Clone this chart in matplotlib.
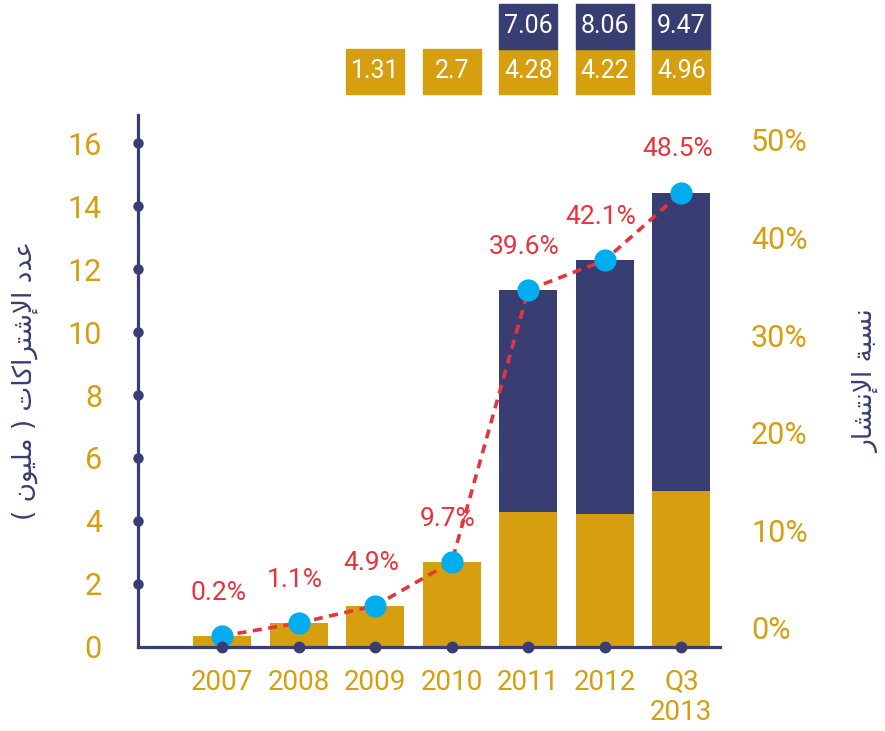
import matplotlib.pyplot as plt
from matplotlib.patches import Rectangle

# ---------------- data ----------------
years = ["2007", "2008", "2009", "2010", "2011", "2012", "Q3\n2013"]
prepaid = [0.35, 0.76, 1.31, 2.7, 4.28, 4.22, 4.96]      # gold part (million)
postpaid = [0, 0, 0, 0, 7.06, 8.06, 9.47]               # navy part (million)
penetration = [0.2, 1.1, 4.9, 9.7, 39.6, 42.1, 48.5]    # %
box_gold = ["", "", "1.31", "2.7", "4.28", "4.22", "4.96"]
box_navy = ["", "", "", "", "7.06", "8.06", "9.47"]
left_ticks = [0, 2, 4, 6, 8, 10, 12, 14, 16]
right_ticks = [0, 10, 20, 30, 40, 50]

GOLD = "#d59f10"
NAVY = "#383d72"
RED = "#e8333c"
CYAN = "#00aeef"
FONT = ["Roboto", "DejaVu Sans"]


# ---------------- tiny arabic shaper (no bidi libs installed) ----------------
FORMS = {
    "ا": ("\uFE8D", "\uFE8E"), "إ": ("\uFE87", "\uFE88"), "د": ("\uFEA9", "\uFEAA"),
    "ر": ("\uFEAD", "\uFEAE"), "و": ("\uFEED", "\uFEEE"), "ة": ("\uFE93", "\uFE94"),
    "ب": ("\uFE8F", "\uFE90", "\uFE91", "\uFE92"), "ت": ("\uFE95", "\uFE96", "\uFE97", "\uFE98"),
    "س": ("\uFEB1", "\uFEB2", "\uFEB3", "\uFEB4"), "ش": ("\uFEB5", "\uFEB6", "\uFEB7", "\uFEB8"),
    "ع": ("\uFEC9", "\uFECA", "\uFECB", "\uFECC"), "ك": ("\uFED9", "\uFEDA", "\uFEDB", "\uFEDC"),
    "ل": ("\uFEDD", "\uFEDE", "\uFEDF", "\uFEE0"), "م": ("\uFEE1", "\uFEE2", "\uFEE3", "\uFEE4"),
    "ن": ("\uFEE5", "\uFEE6", "\uFEE7", "\uFEE8"), "ي": ("\uFEF1", "\uFEF2", "\uFEF3", "\uFEF4"),
}
LAM_ALEF = {"ا": ("\uFEFB", "\uFEFC"), "إ": ("\uFEF9", "\uFEFA")}


def shape_ar(text):
    out = []
    i = 0
    while i < len(text):
        ch = text[i]
        if ch not in FORMS:
            out.append(ch)
            i += 1
            continue
        prev = text[i - 1] if i > 0 else ""
        joins_prev = prev in FORMS and len(FORMS[prev]) == 4
        if ch == "ل" and i + 1 < len(text) and text[i + 1] in LAM_ALEF:
            out.append(LAM_ALEF[text[i + 1]][1 if joins_prev else 0])
            i += 2
            continue
        nxt = text[i + 1] if i + 1 < len(text) else ""
        f = FORMS[ch]
        joins_next = len(f) == 4 and nxt in FORMS
        if joins_prev and joins_next:
            out.append(f[3])
        elif joins_prev:
            out.append(f[1])
        elif joins_next:
            out.append(f[2])
        else:
            out.append(f[0])
        i += 1
    return "".join(out)[::-1].translate(str.maketrans("()", ")("))


# ---------------- figure ----------------
fig = plt.figure(figsize=(8.85, 7.31), dpi=100)
ax = fig.add_axes([0.156, 0.115, 0.658, 0.728])

x = list(range(len(years)))
totals = [a + b for a, b in zip(prepaid, postpaid)]
width = 0.76

ax.bar(x, prepaid, width, color=GOLD, zorder=2)
ax.bar(x, postpaid, width, bottom=prepaid, color=NAVY, zorder=2)

ax.set_xlim(-1.1, 6.51)
ax.set_ylim(0, 16.9)

for s in ["top", "right"]:
    ax.spines[s].set_visible(False)
for s in ["left", "bottom"]:
    ax.spines[s].set_color(NAVY)
    ax.spines[s].set_linewidth(2.3)

ax.set_yticks(left_ticks)
ax.set_yticklabels([str(t) for t in left_ticks], color=GOLD, fontsize=22,
                   family=FONT)
ax.set_xticks(x)
ax.set_xticklabels(years, color=GOLD, fontsize=20, family=FONT,
                   linespacing=1.15, va="top")
ax.tick_params(axis="y", length=0, pad=26)
ax.tick_params(axis="x", length=0, pad=16)

# dots on the axes
ax.plot([0] * 8, left_ticks[1:], "o", color=NAVY, ms=6.5,
        transform=ax.get_yaxis_transform(), clip_on=False, zorder=5)
ax.plot(x, [0] * len(x), "o", color=NAVY, ms=7.5, clip_on=False, zorder=5)

# penetration line
ax.plot(x, totals, color=RED, lw=2.6, ls=(0, (2.5, 1.8)), zorder=3)
ax.plot(x, totals, "o", color=CYAN, ms=15, zorder=4)
for xi, t, p in zip(x, totals, penetration):
    ax.annotate(f"{p}%", (xi, t), xytext=(-3, 31), textcoords="offset points",
                ha="center", va="center", color=RED, fontsize=19,
                family=FONT)

# value boxes on top
trans = ax.get_xaxis_transform()
for xi, g, n in zip(x, box_gold, box_navy):
    if g:
        ax.add_patch(Rectangle((xi - width / 2, 1.0395), width, 0.0845,
                               transform=trans, color=GOLD, clip_on=False))
        ax.text(xi, 1.082, g, transform=trans, ha="center", va="center",
                color="white", fontsize=18, family=FONT)
    if n:
        ax.add_patch(Rectangle((xi - width / 2, 1.124), width, 0.0845,
                               transform=trans, color=NAVY, clip_on=False))
        ax.text(xi, 1.166, n, transform=trans, ha="center", va="center",
                color="white", fontsize=18, family=FONT)

# right axis
ax2 = ax.twinx()
ax2.set_ylim(-1.95, 52.56)
for s in ax2.spines.values():
    s.set_visible(False)
ax2.set_yticks(right_ticks)
ax2.set_yticklabels([f"{t}%" for t in right_ticks], color=GOLD, fontsize=22,
                    family=FONT)
ax2.tick_params(axis="y", length=0, pad=22)

# axis titles
fig.text(0.028, 0.479, shape_ar("عدد الإشتراكات ( مليون )"), rotation=90,
         ha="center", va="center", color=NAVY, fontsize=19, family=["DejaVu Sans"])
fig.text(0.978, 0.479, shape_ar("نسبة الإنتشار"), rotation=90,
         ha="center", va="center", color=NAVY, fontsize=19, family=["DejaVu Sans"])

fig.savefig("out.png", dpi=100)
